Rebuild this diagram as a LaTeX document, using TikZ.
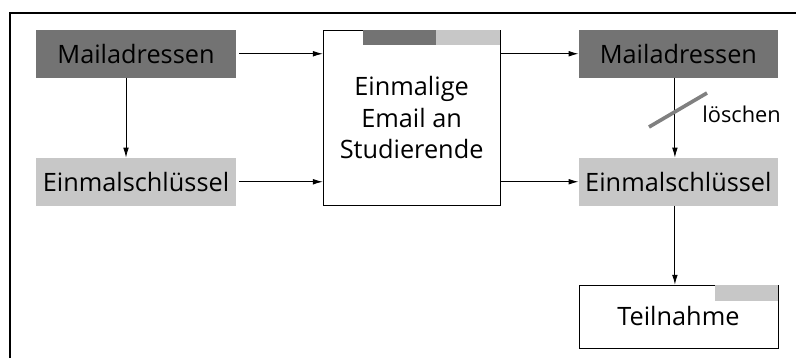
\documentclass[tikz,border=0pt]{standalone}
\usepackage{fontspec}
\setmainfont{Open Sans}
\usetikzlibrary{arrows.meta}
\definecolor{maildark}{gray}{0.45}
\definecolor{keylight}{gray}{0.78}
\begin{document}
\begin{tikzpicture}[semithick]
			\tikzset{
			    darkbox/.style= {rectangle, fill=maildark, minimum width=5cm, minimum height=1.19cm, inner sep=0pt, font=\fontsize{18}{22.4}\selectfont},
			    lightbox/.style= {darkbox, fill=keylight},
			    whitebox/.style= {rectangle, draw=black, thin, inner sep=0pt, align=center, font=\fontsize{18}{22.4}\selectfont},
			    pfeil/.style= {-{Latex[length=7pt,width=4pt]}},
			    strike/.style= {line width=2.6pt, gray},
			}
			\useasboundingbox (0, 0) rectangle (19.9, -8.95);
			\draw[line width=1.6pt] (0.25, -8.95) |- (19.9, -0.325);
			
			\node[darkbox] (mail1) at (3.4, -1.344) {Mailadressen\hspace{4pt}};
			\node[lightbox] (key1) at (3.4, -4.544) {Einmalschlüssel\hspace{4pt}};
			\node[whitebox, minimum width=4.425cm, minimum height=4.39cm] (email) at (10.29, -2.944) {Einmalige\\Email an\\Studierende};
			\node[darkbox, minimum width=4.975cm] (mail2) at (16.96, -1.344) {Mailadressen\hspace{4pt}};
			\node[lightbox, minimum width=4.975cm] (key2) at (16.96, -4.544) {Einmalschlüssel\hspace{4pt}};
			\node[whitebox, minimum width=4.975cm, minimum height=1.575cm] (part) at (16.96, -7.91) {Teilnahme};
			
			% Markierungen oben in den Kaesten
			\fill[maildark] ([xshift=-3.43cm, yshift=-0.3pt]email.north east) rectangle ([xshift=-1.6cm, yshift=-0.375cm]email.north east);
			\fill[keylight] ([xshift=-1.6cm, yshift=-0.3pt]email.north east) rectangle ([xshift=-0.3pt, yshift=-0.375cm]email.north east);
			\fill[keylight] ([xshift=-1.575cm, yshift=-0.3pt]part.north east) rectangle ([xshift=-0.3pt, yshift=-0.4cm]part.north east);
			
			\draw
			([xshift=2pt]mail1.east) edge[pfeil] (email.west |- mail1.east)
			([xshift=2pt]key1.east) edge[pfeil] (email.west |- key1.east)
			([xshift=-0.25cm]mail1.south) edge[pfeil] ([xshift=-0.25cm]key1.north)
			(email.east |- mail2.west) edge[pfeil] (mail2.west)
			(email.east |- key2.west) edge[pfeil] (key2.west)
			([xshift=-0.0875cm]mail2.south) edge[pfeil] ([xshift=-0.0875cm]key2.north)
			([xshift=-0.0875cm]key2.south) edge[pfeil] ([xshift=-0.0875cm]part.north);
			
			\draw[strike] (16.225, -3.175) -- (17.675, -2.325);
			\node[font=\fontsize{15.5}{18}\selectfont] (del) at (18.54, -2.85) {löschen};
		\end{tikzpicture}
\end{document}
